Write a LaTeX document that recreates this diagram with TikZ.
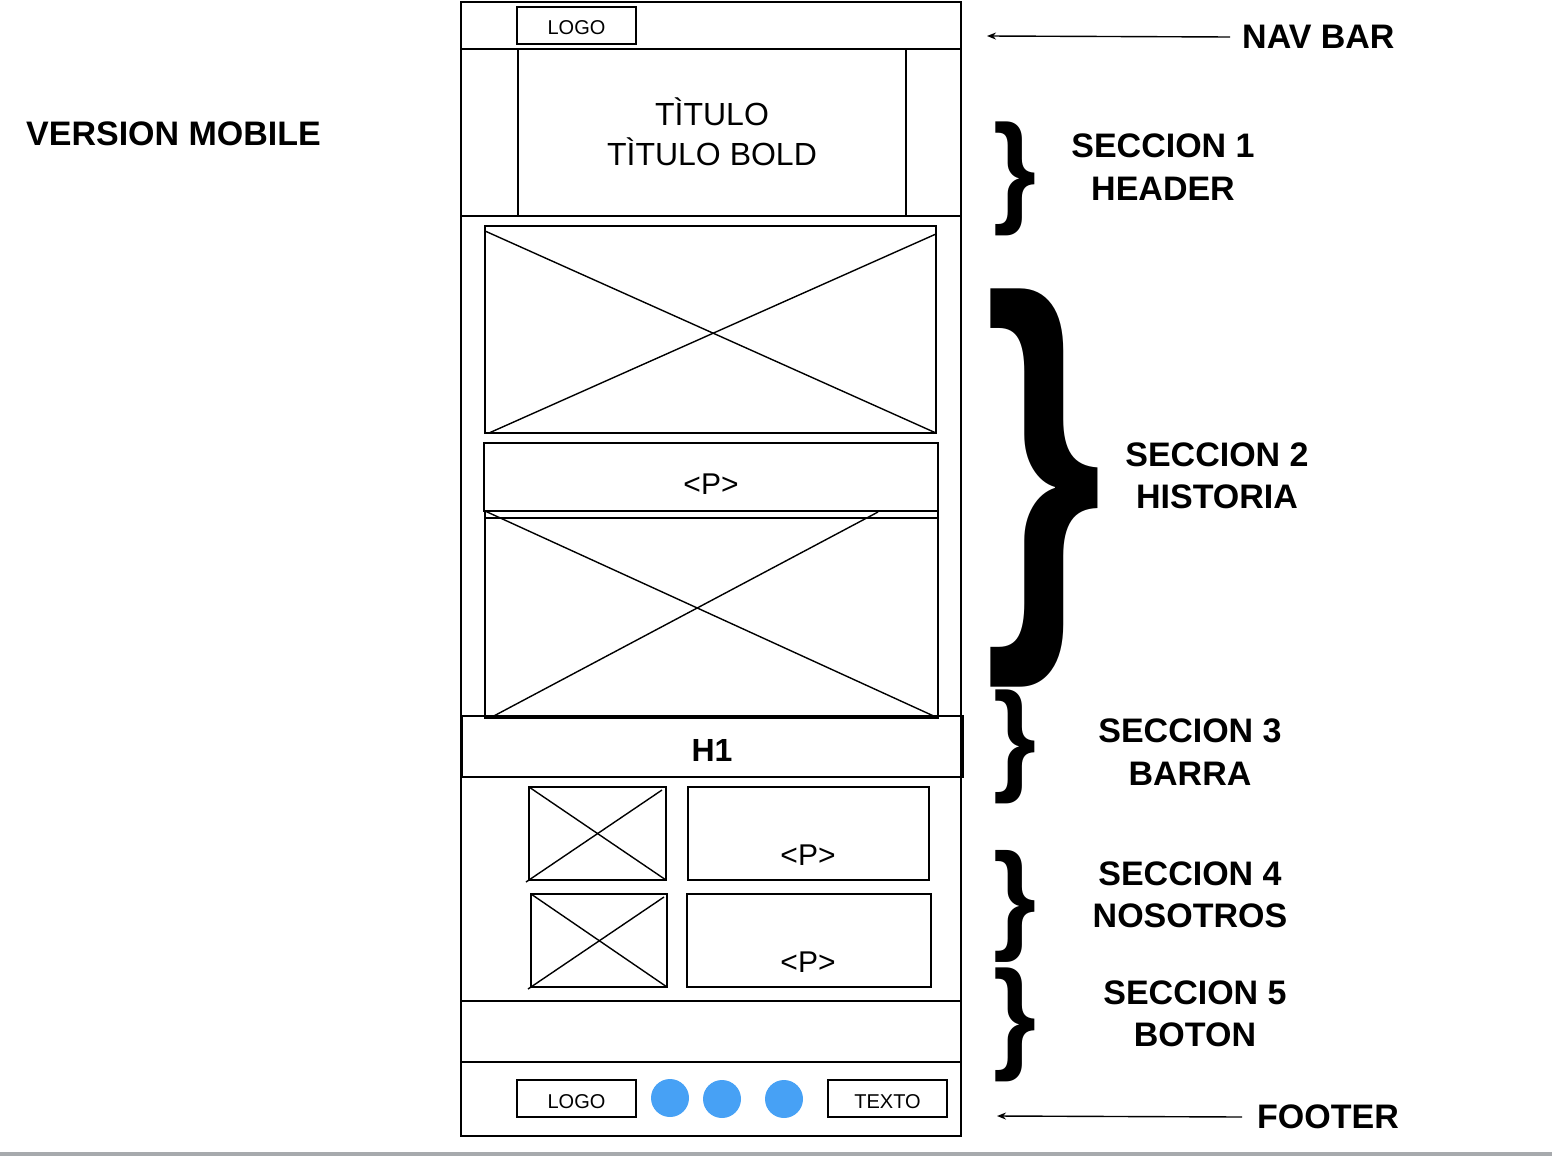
\documentclass[tikz,border=0pt]{standalone}
\usepackage{fontspec}
\setmainfont{Liberation Sans}
\usetikzlibrary{arrows.meta,positioning}
\definecolor{dotblue}{RGB}{71,161,245}
\definecolor{bargray}{RGB}{167,170,173}
\newcommand{\pxfont}[1]{\fontsize{#1}{1.25\dimexpr#1pt\relax}\selectfont}

\begin{document}
\begin{tikzpicture}[x=1pt,y=-1pt,
  wire/.style={draw, line width=1.2pt, inner sep=0pt, outer sep=0pt},
  framebox/.style={draw, line width=1.6pt},
  cross/.style={line width=1.4pt},
  small/.style={font=\pxfont{20}, text height=19pt, text depth=0pt},
  tag/.style={font=\pxfont{34}\bfseries, align=center},
  brace/.style={inner sep=0pt, outer sep=0pt},
  dot/.style={circle, fill=dotblue, minimum size=38pt, inner sep=0pt},
  arrow/.style={-{Stealth[length=9pt,width=7pt]}, line width=1.4pt}
]
  \useasboundingbox (0,0) rectangle (1552,1156);
  \fill[bargray] (0,1152) rectangle (1552,1156);

  % phone frame and sections
  \draw[framebox] (461,2) rectangle (961,1136);
  \draw[framebox] (461,2) rectangle (961,49);
  \draw[framebox] (461,49) rectangle (961,216);
  \draw[wire] (518,49) -- (518,216) (906,49) -- (906,216);
  \draw[framebox] (462,716) rectangle (963,777);
  \draw[framebox] (461,1001) rectangle (961,1062);
  \draw[framebox] (461,1062) rectangle (961,1136);

  % nav bar
  \node[wire, small, minimum width=119, minimum height=37] (navlogo) at (576.5,25.5) {LOGO};

  % header
  \node[font=\pxfont{32}, align=center] (titulo) at (712,132) {TÌTULO\\TÌTULO BOLD};

  % historia
  \node[wire, minimum width=451, minimum height=207] (img1) at (710.5,329.5) {};
  \draw[cross] ([yshift=-5]img1.north west) -- (img1.south east);
  \draw[cross] ([xshift=4]img1.south west) -- ([yshift=-8]img1.north east);
  \node[wire, minimum width=454, minimum height=68] (par1) at (711,477) {};
  \node[font=\pxfont{30}] at (711,484) {<P>};
  \draw[wire] (484,518) -- (938,518);
  \node[wire, minimum width=453, minimum height=207] (img2) at (711.5,614.5) {};
  \draw[cross] (img2.north west) -- (img2.south east);
  \draw[cross] ([xshift=5]img2.south west) -- (878,512);

  % barra
  \node[font=\pxfont{32}\bfseries] (hone) at (712,750) {H1};

  % nosotros
  \node[wire, minimum width=137, minimum height=93] (img3) at (597.5,833.5) {};
  \draw[cross] (img3.north west) -- (img3.south east);
  \draw[cross] (526,882) -- ([xshift=-4,yshift=-3]img3.north east);
  \node[wire, minimum width=241, minimum height=93] (par2) at (808.5,833.5) {};
  \node[font=\pxfont{30}] at (808,855) {<P>};
  \node[wire, minimum width=136, minimum height=93] (img4) at (599,940.5) {};
  \draw[cross] (img4.north west) -- (img4.south east);
  \draw[cross] (528,989) -- ([xshift=-3,yshift=-3]img4.north east);
  \node[wire, minimum width=244, minimum height=93] (par3) at (809,940.5) {};
  \node[font=\pxfont{30}] at (808,962) {<P>};

  % footer
  \node[wire, small, minimum width=119, minimum height=37] (footlogo) at (576.5,1098.5) {LOGO};
  \node[dot] (dota) at (670,1098) {};
  \node[dot] (dotb) at (722,1099) {};
  \node[dot] (dotc) at (784,1099) {};
  \node[wire, small, minimum width=119, minimum height=37] (texto) at (887.5,1098.5) {TEXTO};

  % labels
  \node[tag, anchor=west, inner sep=0pt] (version) at (26,134) {VERSION MOBILE};
  \node[tag, anchor=west, inner sep=0pt] (navlbl) at (1242,37) {NAV BAR};
  \coordinate (navtip) at (987,36);
  \draw[arrow] ([xshift=-12]navlbl.west) -- (navtip);
  \node[tag, anchor=west, inner sep=0pt] (footlbl) at (1257,1117) {FOOTER};
  \coordinate (foottip) at (997,1116);
  \draw[arrow] ([xshift=-15]footlbl.west) -- (foottip);

  \node[brace] (brace1) at (1014.5,179) {\resizebox*{43pt}{114pt}{\bfseries\}}};
  \node[tag] (sec1) at (1163,167) {SECCION 1\\HEADER};
  \node[brace] (brace2) at (1044,488) {\resizebox*{118pt}{398pt}{\bfseries\}}};
  \node[tag] (sec2) at (1217,476) {SECCION 2\\HISTORIA};
  \node[brace] (brace3) at (1014.5,747) {\resizebox*{43pt}{114pt}{\bfseries\}}};
  \node[tag] (sec3) at (1190,752) {SECCION 3\\BARRA};
  \node[brace] (brace4) at (1014.5,906) {\resizebox*{43pt}{112pt}{\bfseries\}}};
  \node[tag] (sec4) at (1190,895) {SECCION 4\\NOSOTROS};
  \node[brace] (brace5) at (1014.5,1025) {\resizebox*{43pt}{114pt}{\bfseries\}}};
  \node[tag] (sec5) at (1195,1014) {SECCION 5\\BOTON};
\end{tikzpicture}
\end{document}
